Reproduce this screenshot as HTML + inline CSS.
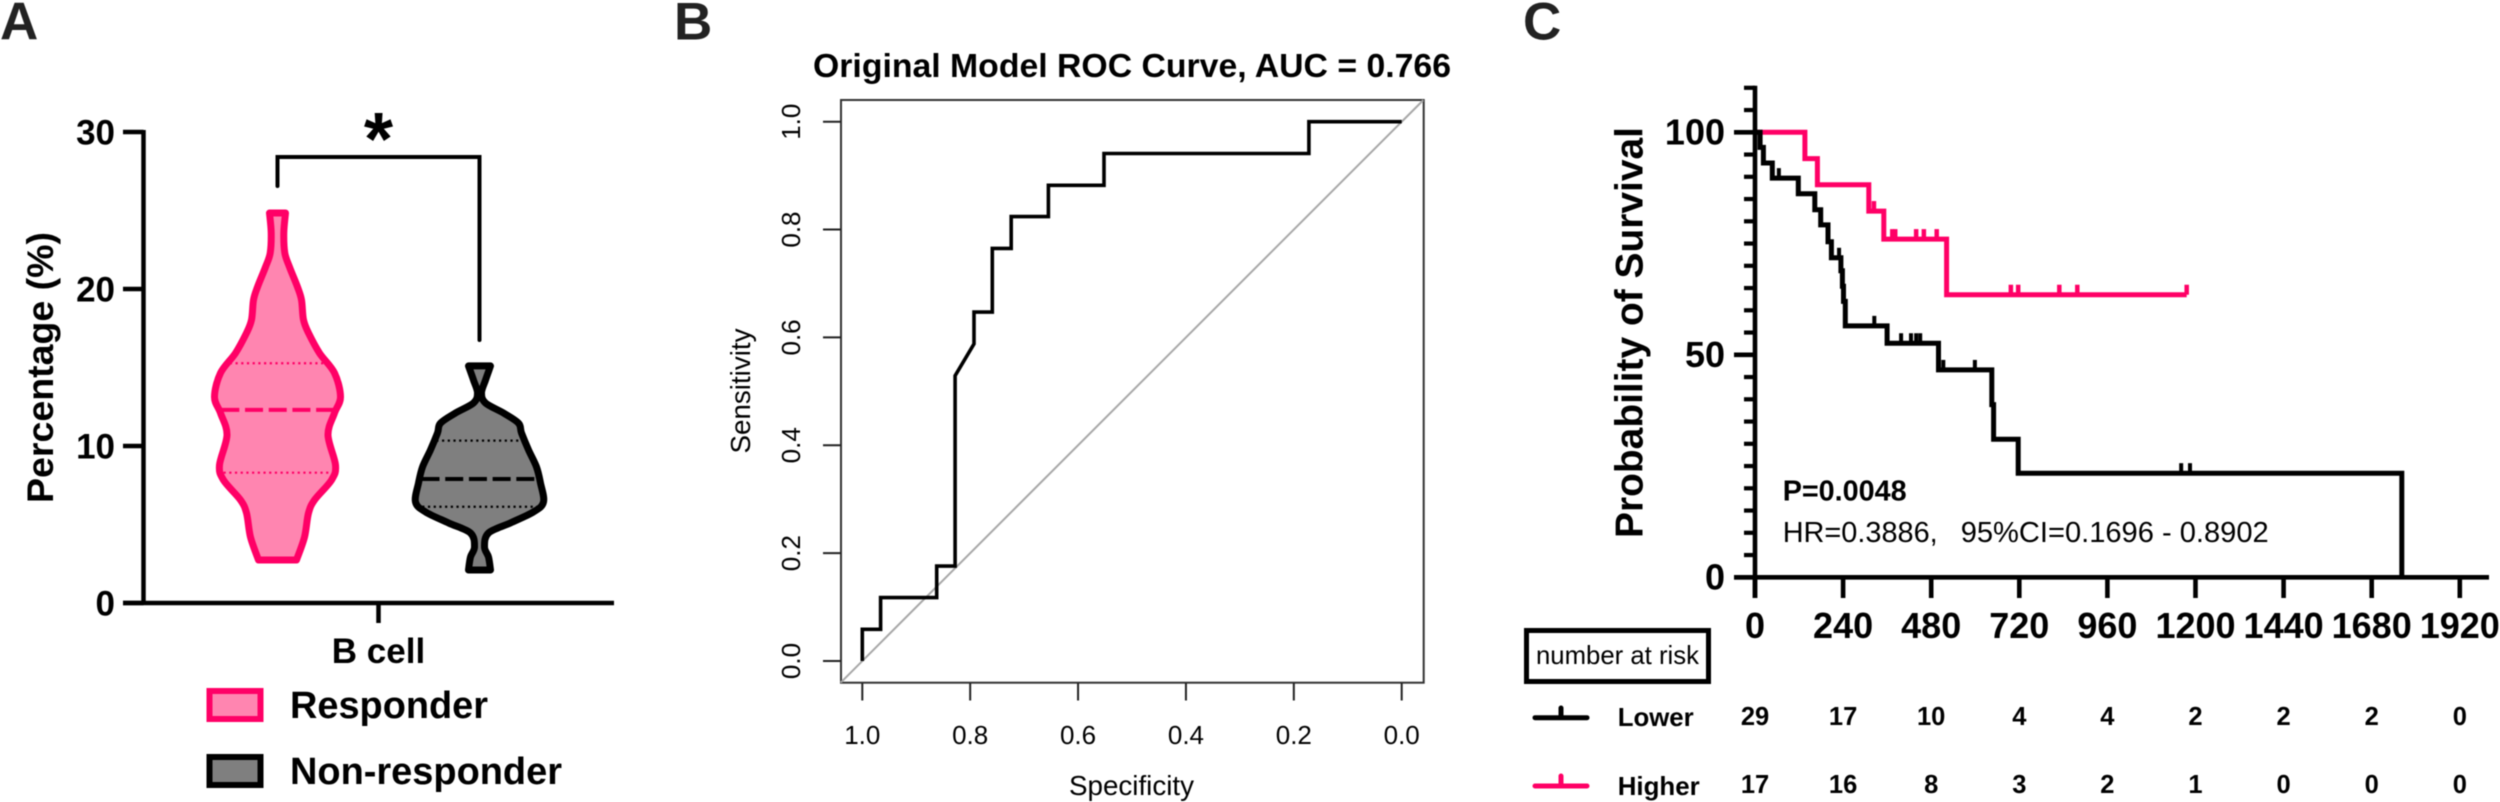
<!DOCTYPE html>
<html lang="en">
<head>
<meta charset="utf-8">
<title>Responder violin plot, ROC curve and survival curve</title>
<style>
html,body{margin:0;padding:0;background:#fff;}
svg{display:block;filter:blur(0.4px);}
text{font-family:"Liberation Sans",Arial,sans-serif;}
.b{font-weight:700;}
</style>
</head>
<body>
<svg id="fig" xmlns="http://www.w3.org/2000/svg" width="2500" height="802" viewBox="0 0 2500 802">
  <rect x="0" y="0" width="2500" height="802" fill="#fff"/>

  <text class="b" x="0" y="39.5" font-size="53" fill="#222">A</text>
  <text class="b" x="674" y="39.5" font-size="53" fill="#222">B</text>
  <text class="b" x="1523" y="39.5" font-size="53" fill="#222">C</text>

  <g id="panelA">
    <text class="b" transform="translate(53,367.5) rotate(-90)" text-anchor="middle" font-size="37.5" textLength="271" lengthAdjust="spacingAndGlyphs">Percentage (%)</text>
    <text class="b" x="378.5" y="663" text-anchor="middle" font-size="35">B cell</text>
    <path d="M277.5 186V157H479.5V340" fill="none" stroke="#000" stroke-width="4" stroke-linecap="round"/>
    <text class="b" x="378.5" y="165" text-anchor="middle" font-size="75">*</text>
    <rect x="209.5" y="691" width="51" height="28" fill="#ff85b0" stroke="#ff0066" stroke-width="6"/>
    <text class="b" x="290" y="718" font-size="38" textLength="198" lengthAdjust="spacingAndGlyphs">Responder</text>
    <rect x="209.5" y="757" width="51" height="28" fill="#7f7f7f" stroke="#000" stroke-width="6"/>
    <text class="b" x="290" y="784" font-size="38" textLength="272" lengthAdjust="spacingAndGlyphs">Non-responder</text>
  </g>

  <g id="panelB">
    <text class="b" x="813" y="77" font-size="33.5" textLength="638" lengthAdjust="spacingAndGlyphs">Original Model ROC Curve, AUC = 0.766</text>
    <rect x="841" y="100" width="582.7" height="582.7" fill="none" stroke="#333" stroke-width="2"/>
    <text transform="translate(750,391) rotate(-90)" text-anchor="middle" font-size="27.5" textLength="125" lengthAdjust="spacingAndGlyphs">Sensitivity</text>
    <text x="1131.5" y="795" text-anchor="middle" font-size="27.5" textLength="125" lengthAdjust="spacingAndGlyphs">Specificity</text>
  </g>

  <g id="panelC">
    <text class="b" transform="translate(1642.7,332.5) rotate(-90)" text-anchor="middle" font-size="39" textLength="411" lengthAdjust="spacingAndGlyphs">Probability of Survival</text>
    <text class="b" x="1782.7" y="500.7" font-size="29" textLength="124" lengthAdjust="spacingAndGlyphs">P=0.0048</text>
    <text x="1782.7" y="542" font-size="29" textLength="155" lengthAdjust="spacingAndGlyphs">HR=0.3886,</text>
    <text x="1960.7" y="542" font-size="29" textLength="308" lengthAdjust="spacingAndGlyphs">95%CI=0.1696 - 0.8902</text>
    <rect x="1526.5" y="630.5" width="182" height="51" fill="none" stroke="#000" stroke-width="5"/>
    <text x="1536" y="664" font-size="26" textLength="163" lengthAdjust="spacingAndGlyphs">number at risk</text>
    <path d="M1535 717.7H1587M1561 717.7V708" fill="none" stroke="#000" stroke-width="5" stroke-linecap="round"/>
    <text class="b" x="1617.7" y="726" font-size="26" textLength="76" lengthAdjust="spacingAndGlyphs">Lower</text>
    <path d="M1535 786H1587M1561 786V776" fill="none" stroke="#ff0066" stroke-width="5" stroke-linecap="round"/>
    <text class="b" x="1617.7" y="795" font-size="26" textLength="82" lengthAdjust="spacingAndGlyphs">Higher</text>
  </g>
</svg>

<script>
/* ---------- Panel A data ---------- */
const violinTicks = [0, 10, 20, 30];
const responderLevels = [24.84, 23.57, 22.29, 21.4, 20.13, 19.3, 18.03, 17.2, 15.92, 14.65, 13.12, 12.1, 10.7, 8.79, 7.83, 6.56, 5.73, 4.2, 2.74];
const responderDensity = [0.8, 0.63, 0.73, 1.2, 2.0, 2.4, 2.6, 3.1, 4.2, 5.7, 6.3, 5.7, 5.05, 5.8, 5.4, 3.7, 3.1, 2.7, 1.9];
const responderQuartiles = [8.3, 12.3, 15.27];
const nonResponderLevels = [15.1, 14.2, 13.38, 12.74, 12.1, 11.46, 10.83, 9.75, 8.66, 7.64, 6.43, 5.8, 5.1, 4.46, 3.57, 2.93, 2.1];
const nonResponderDensity = [1.1, 0.6, 0.2, 0.6, 2.4, 3.9, 4.2, 4.9, 5.7, 6.1, 6.4, 5.4, 3.1, 0.9, 0.5, 0.9, 1.1];
const nonResponderQuartiles = [6.13, 7.9, 10.34];

/* ---------- Panel B data ---------- */
const rocTicks = [0, 0.2, 0.4, 0.6, 0.8, 1];
const rocTickLabels = ['0.0', '0.2', '0.4', '0.6', '0.8', '1.0'];
const rocSpecificity = [1, 1, 0.966, 0.966, 0.862, 0.862, 0.828, 0.828, 0.793, 0.793, 0.759, 0.759, 0.724, 0.724, 0.655, 0.655, 0.552, 0.552, 0.172, 0.172, 0];
const rocSensitivity = [0, 0.0588, 0.0588, 0.1176, 0.1176, 0.176, 0.176, 0.529, 0.588, 0.647, 0.647, 0.765, 0.765, 0.824, 0.824, 0.882, 0.882, 0.941, 0.941, 1, 1];
const rocDiagonal = [-0.04, 1.04];

/* ---------- Panel C data ---------- */
const kmTimeTicks = [0, 240, 480, 720, 960, 1200, 1440, 1680, 1920];
const kmMajorTicks = [0, 50, 100];
const kmMinorTicks = [5, 10, 15, 20, 25, 30, 35, 40, 45, 55, 60, 65, 70, 75, 80, 85, 90, 95, 105, 110];
const lowerTimes = [14, 23, 47, 118, 163, 179, 199, 208, 234, 238, 241, 246, 360, 500, 645, 650, 717, 1762];
const lowerSurvival = [96.6, 93.1, 89.7, 86.2, 82.6, 79.2, 75.4, 71.8, 68.9, 65.4, 62, 56.5, 52.6, 46.6, 38.8, 31, 23.4, 0];
const lowerCensored = [65, 229, 325, 398, 425, 439, 450, 513, 599, 1161, 1185];
const higherTimes = [136, 170, 310, 351, 522];
const higherSurvival = [94.1, 88.2, 82.3, 76, 63.5];
const higherEnd = 1176;
const higherCensored = [324, 374, 382, 439, 460, 495, 697, 717, 829, 878, 1176];
const riskLower = [29, 17, 10, 4, 4, 2, 2, 2, 0];
const riskHigher = [17, 16, 8, 3, 2, 1, 0, 0, 0];

/* ---------- helpers ---------- */
const NS = 'http://www.w3.org/2000/svg';
function mk(parent, tag, attrs, txt) {
  const el = document.createElementNS(NS, tag);
  for (const k in attrs) el.setAttribute(k, attrs[k]);
  if (txt !== undefined) el.textContent = txt;
  parent.appendChild(el);
  return el;
}
const panelA = document.getElementById('panelA');
const panelB = document.getElementById('panelB');
const panelC = document.getElementById('panelC');

/* ---------- Panel A scales ---------- */
const vy = v => 603 - v * 15.7;
const dw = d => d * 10;

function lerpWidth(levels, dens, v) {
  for (let i = 0; i < levels.length - 1; i++) {
    if (v <= levels[i] && v >= levels[i + 1]) {
      const t = (levels[i] - v) / (levels[i] - levels[i + 1]);
      return dens[i] + t * (dens[i + 1] - dens[i]);
    }
  }
  return 0;
}
function smoothSegments(p) {
  let d = '';
  for (let i = 0; i < p.length - 1; i++) {
    const p0 = p[Math.max(i - 1, 0)], p1 = p[i], p2 = p[i + 1], p3 = p[Math.min(i + 2, p.length - 1)];
    const c1x = p1[0] + (p2[0] - p0[0]) / 6, c1y = p1[1] + (p2[1] - p0[1]) / 6;
    const c2x = p2[0] - (p3[0] - p1[0]) / 6, c2y = p2[1] - (p3[1] - p1[1]) / 6;
    d += 'C' + c1x.toFixed(1) + ' ' + c1y.toFixed(1) + ' ' + c2x.toFixed(1) + ' ' + c2y.toFixed(1) + ' ' + p2[0].toFixed(1) + ' ' + p2[1].toFixed(1);
  }
  return d;
}
function violinPath(cx, levels, dens) {
  const right = levels.map((v, i) => [cx + dw(dens[i]), vy(v)]);
  const left = levels.map((v, i) => [cx - dw(dens[i]), vy(v)]).reverse();
  return 'M' + right[0][0] + ' ' + right[0][1] + smoothSegments(right) +
    'L' + left[0][0] + ' ' + left[0][1] + smoothSegments(left) + 'Z';
}
function quartileLine(cx, levels, dens, v, color, isMedian) {
  const hw = dw(lerpWidth(levels, dens, v)) - 2;
  return mk(panelA, 'line', {
    x1: cx - hw, x2: cx + hw, y1: vy(v), y2: vy(v), stroke: color,
    'stroke-width': isMedian ? 4 : 2.2,
    'stroke-dasharray': isMedian ? '18 5.7' : '2.2 3.5'
  });
}

/* violin A */
const vResp = mk(panelA, 'path', { d: violinPath(277.5, responderLevels, responderDensity), fill: '#ff85b0', stroke: '#ff0066', 'stroke-width': 7, 'stroke-linejoin': 'round' });


responderQuartiles.forEach((v, i) => {
  const q = quartileLine(277.5, responderLevels, responderDensity, v, '#ff0066', i === 1);
  
  
});
const vNon = mk(panelA, 'path', { d: violinPath(479.5, nonResponderLevels, nonResponderDensity), fill: '#7f7f7f', stroke: '#000', 'stroke-width': 7, 'stroke-linejoin': 'round' });


nonResponderQuartiles.forEach((v, i) => {
  const q = quartileLine(479.5, nonResponderLevels, nonResponderDensity, v, '#000', i === 1);
  
  
});

/* axes A */
const aAxes = mk(panelA, 'path', {
  d: 'M143.5 ' + (vy(30) - 2) + 'V' + vy(0) + 'M123 ' + vy(0) + 'H614M378.5 ' + vy(0) + 'V623',
  fill: 'none', stroke: '#000', 'stroke-width': 4.5
});


violinTicks.forEach(v => {
  const t = mk(panelA, 'line', { x1: 123, x2: 143.5, y1: vy(v), y2: vy(v), stroke: '#000', 'stroke-width': 4.5 });
  
  
  const l = mk(panelA, 'text', { x: 115, y: vy(v) + 12.5, 'text-anchor': 'end', 'font-size': 35, 'font-weight': 700 }, String(v));
  
  
});

/* ---------- Panel B scales ---------- */
const rx = s => 862.3 + (1 - s) * 539.4;
const ry = v => 661 - v * 539.3;

const diag = mk(panelB, 'line', { x1: rx(rocDiagonal[1]), y1: ry(rocDiagonal[0]), x2: rx(rocDiagonal[0]), y2: ry(rocDiagonal[1]), stroke: '#a8a8a8', 'stroke-width': 2 });



const rocPath = mk(panelB, 'path', {
  d: rocSpecificity.map((s, i) => (i ? 'L' : 'M') + rx(s).toFixed(1) + ' ' + ry(rocSensitivity[i]).toFixed(1)).join(''),
  fill: 'none', stroke: '#000', 'stroke-width': 3.6, 'stroke-linejoin': 'miter'
});



rocTicks.forEach((v, i) => {
  const ty = mk(panelB, 'line', { x1: 823, x2: 841, y1: ry(v), y2: ry(v), stroke: '#222', 'stroke-width': 2 });
  
  
  const ly = mk(panelB, 'text', { transform: 'translate(800,' + ry(v) + ') rotate(-90)', 'text-anchor': 'middle', 'font-size': 26 }, rocTickLabels[i]);
  
  
  const tx = mk(panelB, 'line', { x1: rx(v), x2: rx(v), y1: 683, y2: 700.5, stroke: '#222', 'stroke-width': 2 });
  
  
  const lx = mk(panelB, 'text', { x: rx(v), y: 744, 'text-anchor': 'middle', 'font-size': 26 }, rocTickLabels[i]);
  
  
});

/* ---------- Panel C scales ---------- */
const kx = t => 1755 + t * 0.36708;
const ky = s => 577.3 - s * 4.45;

function survivalAt(times, surv, t) {
  let s = 100;
  for (let i = 0; i < times.length; i++) if (times[i] <= t) s = surv[i];
  return s;
}
function stepPath(times, surv, end) {
  let d = 'M' + kx(0) + ' ' + ky(100);
  times.forEach((t, i) => {
    d += 'H' + kx(t).toFixed(1) + 'V' + ky(surv[i]).toFixed(1);
  });
  if (end !== undefined) d += 'H' + kx(end).toFixed(1);
  return d;
}

const higherLine = mk(panelC, 'path', { d: stepPath(higherTimes, higherSurvival, higherEnd), fill: 'none', stroke: '#ff0066', 'stroke-width': 5 });


higherCensored.forEach(t => {
  const s = survivalAt(higherTimes, higherSurvival, t);
  const c = mk(panelC, 'line', { x1: kx(t), x2: kx(t), y1: ky(s), y2: ky(s) - 10, stroke: '#ff0066', 'stroke-width': 4.5 });
  
  
});

const lowerLine = mk(panelC, 'path', { d: stepPath(lowerTimes, lowerSurvival), fill: 'none', stroke: '#000', 'stroke-width': 5 });


lowerCensored.forEach(t => {
  const s = survivalAt(lowerTimes, lowerSurvival, t);
  const c = mk(panelC, 'line', { x1: kx(t), x2: kx(t), y1: ky(s), y2: ky(s) - 10, stroke: '#000', 'stroke-width': 4 });
  
  
});

const kAxes = mk(panelC, 'path', {
  d: 'M' + kx(0) + ' ' + (ky(110) - 2) + 'V598M1734 ' + ky(0) + 'H2489',
  fill: 'none', stroke: '#000', 'stroke-width': 4.6
});



kmMinorTicks.forEach(v => {
  const t = mk(panelC, 'line', { x1: 1744, x2: kx(0), y1: ky(v), y2: ky(v), stroke: '#000', 'stroke-width': 4.2 });
  
  
});
kmMajorTicks.forEach(v => {
  const t = mk(panelC, 'line', { x1: 1734, x2: kx(0), y1: ky(v), y2: ky(v), stroke: '#000', 'stroke-width': 4.6 });
  
  
  const l = mk(panelC, 'text', { x: 1725, y: ky(v) + 12, 'text-anchor': 'end', 'font-size': 36, 'font-weight': 700 }, String(v));
  
  
});
kmTimeTicks.forEach((tv, i) => {
  const t = mk(panelC, 'line', { x1: kx(tv), x2: kx(tv), y1: ky(0), y2: 598, stroke: '#000', 'stroke-width': 4.6 });
  
  
  const l = mk(panelC, 'text', { x: kx(tv), y: 638, 'text-anchor': 'middle', 'font-size': 36, 'font-weight': 700 }, String(tv));
  
  
  const a = mk(panelC, 'text', { x: kx(tv), y: 725, 'text-anchor': 'middle', 'font-size': 25.5, 'font-weight': 700 }, String(riskLower[i]));
  
  
  const b = mk(panelC, 'text', { x: kx(tv), y: 793, 'text-anchor': 'middle', 'font-size': 25.5, 'font-weight': 700 }, String(riskHigher[i]));
  
  
});
</script>
</body>
</html>
